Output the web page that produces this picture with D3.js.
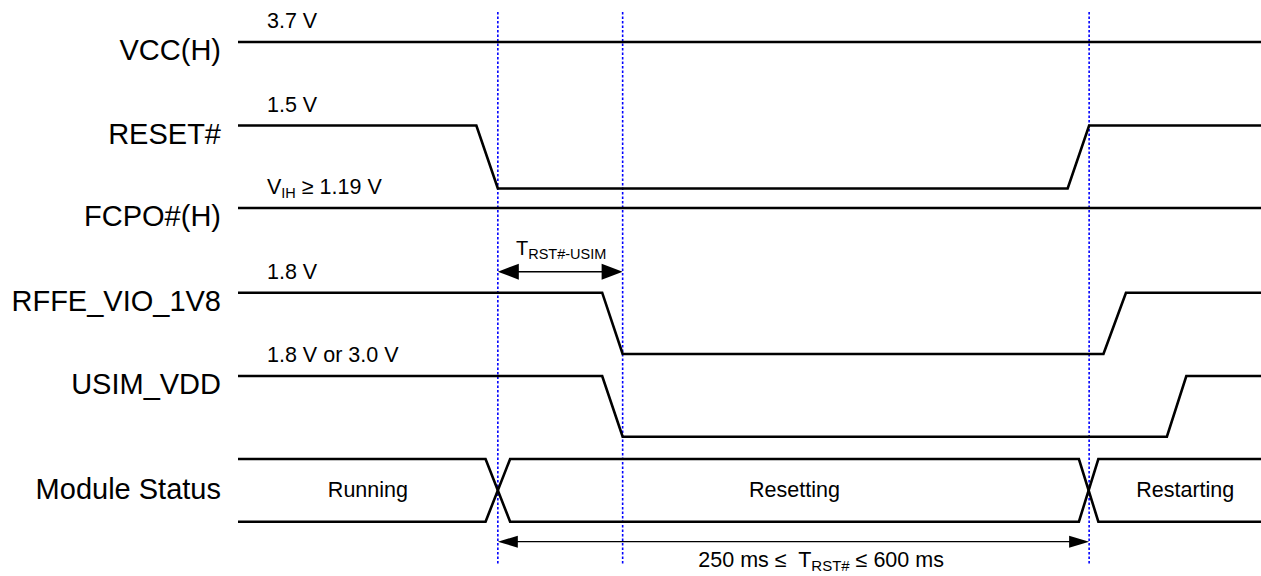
<!DOCTYPE html>
<html>
<head>
<meta charset="utf-8">
<script src="https://cdn.jsdelivr.net/npm/d3@7"></script>
<style>
  html, body { margin: 0; padding: 0; background: #fff; }
  svg { display: block; }
  text { font-family: "Liberation Sans", Arial, Helvetica, sans-serif; fill: #000; }
</style>
</head>
<body>
<svg id="chart"></svg>
<script>
// time axis is in arbitrary units 0..100 across the trace area
const signalNames = ['VCC(H)', 'RESET#', 'FCPO#(H)', 'RFFE_VIO_1V8', 'USIM_VDD']
const levelLabels = [['3.7 V'], ['1.5 V'], ['V', 'IH', ' \u2265 1.19 V'], ['1.8 V'], ['1.8 V or 3.0 V']]

// [time, level] where 1 = high, 0 = low
const vccWave = [[0, 1], [100, 1]]
const resetWave = [[0, 1], [23.3, 1], [25.4, 0], [81.1, 0], [83.2, 1], [100, 1]]
const fcpoWave = [[0, 1], [100, 1]]
const rffeWave = [[0, 1], [35.6, 1], [37.6, 0], [84.6, 0], [86.8, 1], [100, 1]]
const usimWave = [[0, 1], [35.6, 1], [37.6, 0], [90.8, 0], [92.7, 1], [100, 1]]
const waves = [vccWave, resetWave, fcpoWave, rffeWave, usimWave]

const statusStates = ['Running', 'Resetting', 'Restarting']
const statusLabelTimes = [12.7, 54.4, 92.6]
const statusCrossings = [[24.2, 26.6], [82.2, 84.1]]

const markerTimes = [25.4, 37.6, 83.2]
const usimDelay = { from: 25.4, to: 37.6, label: ['T', 'RST#-USIM'] }
const resetDuration = { from: 25.4, to: 83.2, label: ['250 ms \u2264  T', 'RST#', ' \u2264 600 ms'], at: 57.0 }

const width = 1261
const height = 576
// row layout: y of high and low level
const rowLayout = [
  { hi: 42, lo: 42 },
  { hi: 125.5, lo: 188.5 },
  { hi: 208, lo: 208 },
  { hi: 292.7, lo: 354 },
  { hi: 376, lo: 436.7 },
]
const statusRow = { hi: 459, lo: 521.7 }

const x = d3.scaleLinear().domain([0, 100]).range([238, 1261])

const svg = d3.select('#chart')
  .attr('width', width)
  .attr('height', height)
  .attr('viewBox', `0,0,${width},${height}`)

// blue dotted markers
svg.append('g')
  .selectAll('line')
  .data(markerTimes)
  .join('line')
  .attr('x1', (d) => x(d))
  .attr('x2', (d) => x(d))
  .attr('y1', 12)
  .attr('y2', 564)
  .attr('stroke', '#0000ff')
  .attr('stroke-width', 1.6)
  .attr('stroke-dasharray', '2.5,2')

const traces = svg.append('g')
  .attr('fill', 'none')
  .attr('stroke', '#000')
  .attr('stroke-width', 2.6)
  .attr('stroke-linejoin', 'miter')

waves.forEach((wave, i) => {
  const r = rowLayout[i]
  const y = d3.scaleLinear().domain([0, 1]).range([r.lo, r.hi])
  const line = d3.line().x((d) => x(d[0])).y((d) => y(d[1]))
  traces.append('path').attr('d', line(wave))

  // signal name
  svg.append('text')
    .attr('x', 221)
    .attr('y', r.hi + 18)
    .attr('text-anchor', 'end')
    .attr('font-size', 29)
    .text(signalNames[i])

  // level label
  const t = svg.append('text')
    .attr('x', 267)
    .attr('y', r.hi - 14)
    .attr('font-size', 21.5)
  const parts = levelLabels[i]
  if (parts.length === 1) {
    t.text(parts[0])
  } else {
    t.append('tspan').text(parts[0])
    t.append('tspan').attr('font-size', 14.5).attr('dy', 4).text(parts[1])
    t.append('tspan').attr('dy', -4).text(parts[2])
  }
})

// module status bus
const ys = d3.scaleLinear().domain([0, 1]).range([statusRow.lo, statusRow.hi])
const busLine = d3.line().x((d) => x(d[0])).y((d) => ys(d[1]))
const c = statusCrossings
const busA = [[0, 1], [c[0][0], 1], [c[0][1], 0], [c[1][0], 0], [c[1][1], 1], [100, 1]]
const busB = busA.map((d) => [d[0], 1 - d[1]])
traces.append('path').attr('d', busLine(busA))
traces.append('path').attr('d', busLine(busB))

svg.append('text')
  .attr('x', 221)
  .attr('y', 499)
  .attr('text-anchor', 'end')
  .attr('font-size', 29)
  .text('Module Status')

svg.append('g')
  .selectAll('text')
  .data(statusStates)
  .join('text')
  .attr('x', (_, i) => x(statusLabelTimes[i]))
  .attr('y', 497)
  .attr('text-anchor', 'middle')
  .attr('font-size', 21.5)
  .text((d) => d)

// double headed arrows
const arrow = (from, to, yPos, headLen, headHalf, sw) => {
  const g = svg.append('g')
  const x1 = x(from)
  const x2 = x(to)
  g.append('line')
    .attr('x1', x1 + headLen - 1).attr('x2', x2 - headLen + 1)
    .attr('y1', yPos).attr('y2', yPos)
    .attr('stroke', '#000').attr('stroke-width', sw)
  g.append('path')
    .attr('d', `M${x1},${yPos}L${x1 + headLen},${yPos - headHalf}L${x1 + headLen},${yPos + headHalf}Z`)
    .attr('fill', '#000')
  g.append('path')
    .attr('d', `M${x2},${yPos}L${x2 - headLen},${yPos - headHalf}L${x2 - headLen},${yPos + headHalf}Z`)
    .attr('fill', '#000')
}

arrow(usimDelay.from, usimDelay.to, 271.7, 21, 8, 1.5)
arrow(resetDuration.from, resetDuration.to, 541.7, 20, 6, 1.3)

const t1 = svg.append('text')
  .attr('x', 516)
  .attr('y', 255)
  .attr('font-size', 20)
t1.append('tspan').text(usimDelay.label[0])
t1.append('tspan').attr('font-size', 14.5).attr('dy', 4).text(usimDelay.label[1])

const t2 = svg.append('text')
  .attr('x', x(resetDuration.at))
  .attr('y', 567)
  .attr('text-anchor', 'middle')
  .attr('font-size', 21.5)
  .attr('xml:space', 'preserve')
  .style('white-space', 'pre')
t2.append('tspan').text(resetDuration.label[0])
t2.append('tspan').attr('font-size', 15).attr('dy', 4).text(resetDuration.label[1])
t2.append('tspan').attr('dy', -4).text(resetDuration.label[2])
</script>
</body>
</html>
